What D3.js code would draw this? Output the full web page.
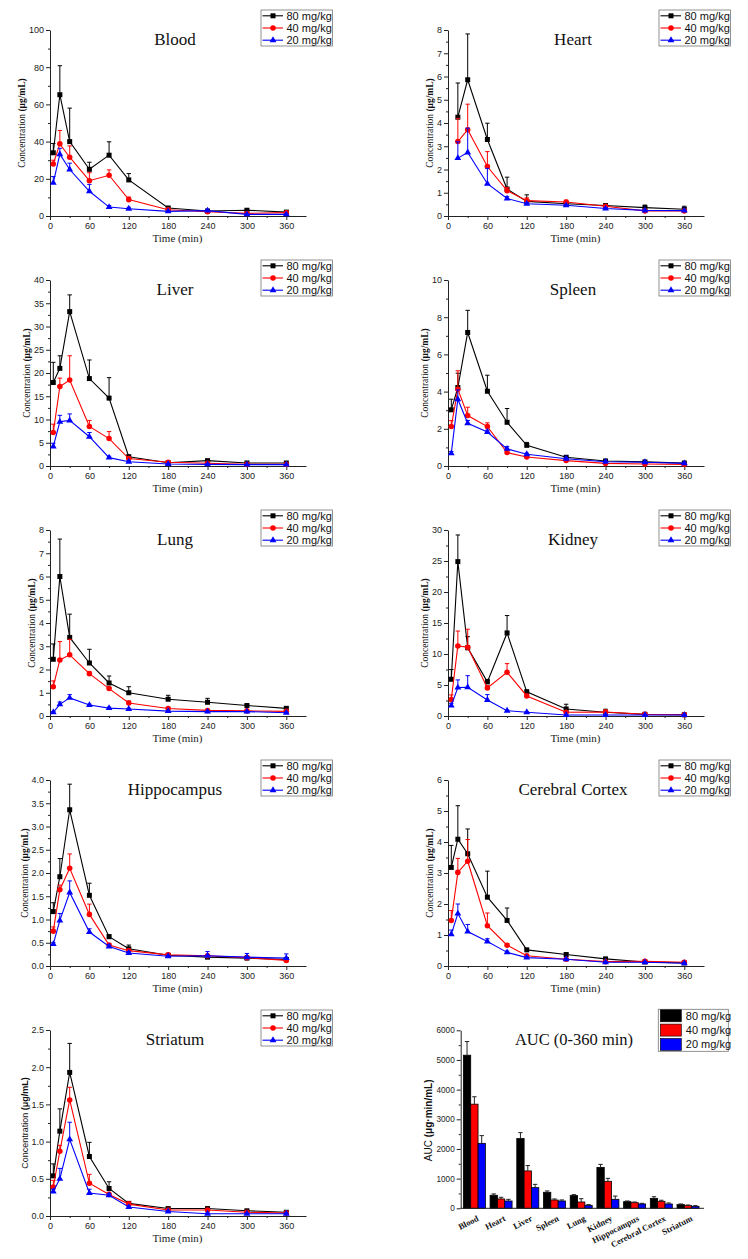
<!DOCTYPE html>
<html><head><meta charset="utf-8">
<script src="https://cdn.jsdelivr.net/npm/d3@7"></script>
<style>
body{margin:0;background:#fff}
svg{display:block}
</style></head><body>
<svg id="chart" width="748" height="1259"></svg>
<script>
// ---------- DATA ----------
const times = [5, 15, 30, 60, 90, 120, 180, 240, 300, 360];
const heartTimes = [15, 30, 60, 90, 120, 180, 240, 300, 360];
const doses = ["80 mg/kg", "40 mg/kg", "20 mg/kg"];
const tissues = ["Blood", "Heart", "Liver", "Spleen", "Lung", "Kidney", "Hippocampus", "Cerebral Cortex", "Striatum"];
const xTicks = [0, 60, 120, 180, 240, 300, 360];
const yMax = [100, 8, 40, 10, 8, 30, 4, 6, 2.5];
const yStep = [20, 1, 5, 2, 1, 5, 0.5, 1, 0.5];
const yDecimals = [0, 0, 0, 0, 0, 0, 1, 0, 1];

// mean values per dose (80, 40, 20 mg/kg) and upper error (SD)
const bloodMean = [
  [34, 65.2, 40, 25.1, 32.7, 19.4, 4.3, 2.7, 3.1, 2.1],
  [28, 38.8, 31.6, 19, 21.9, 8.8, 3.4, 2.3, 1.4, 1.8],
  [17.8, 33.2, 25, 13.3, 4.8, 3.9, 2.5, 2.9, 0.9, 0.9]];
const bloodSD = [
  [5, 15.6, 18, 3.8, 7.2, 3.4, 0.5, 0.3, 0.4, 0.4],
  [2, 7.2, 6.1, 4.3, 2.9, 1.4, 0.5, 0.4, 0.3, 0.3],
  [3.4, 3.2, 3.4, 3.7, 0.8, 0.8, 0.3, 0.4, 0.2, 0.2]];
const heartMean = [
  [4.25, 5.86, 3.29, 1.16, 0.63, 0.53, 0.45, 0.36, 0.29],
  [3.2, 3.71, 2.13, 1.09, 0.66, 0.60, 0.42, 0.22, 0.22],
  [2.49, 2.73, 1.39, 0.75, 0.53, 0.46, 0.32, 0.24, 0.23]];
const heartSD = [
  [1.47, 1.97, 0.70, 0.51, 0.28, 0.06, 0.07, 0.11, 0.13],
  [1.0, 1.10, 0.64, 0.13, 0.12, 0.08, 0.07, 0.05, 0.05],
  [0.7, 1.05, 0.66, 0.08, 0.05, 0.04, 0.04, 0.03, 0.03]];
const liverMean = [
  [17.95, 21.0, 33.2, 18.8, 14.6, 2.0, 0.7, 1.15, 0.65, 0.65],
  [7.2, 17.1, 18.5, 8.5, 5.9, 1.6, 0.8, 0.6, 0.35, 0.35],
  [4.2, 9.5, 9.8, 6.3, 1.8, 0.93, 0.43, 0.35, 0.3, 0.3]];
const liverSD = [
  [4.35, 2.7, 3.6, 4.0, 4.4, 0.3, 0.2, 0.2, 0.1, 0.1],
  [1.8, 1.8, 5.2, 1.3, 1.5, 0.3, 0.2, 0.1, 0.1, 0.1],
  [0.7, 1.4, 1.4, 0.9, 0.3, 0.2, 0.1, 0.1, 0.05, 0.05]];
const spleenMean = [
  [3.02, 4.22, 7.18, 4.02, 2.35, 1.11, 0.47, 0.27, 0.22, 0.16],
  [2.12, 4.13, 2.71, 2.12, 0.72, 0.48, 0.29, 0.14, 0.11, 0.09],
  [0.68, 3.59, 2.30, 1.83, 0.92, 0.63, 0.39, 0.23, 0.20, 0.14]];
const spleenSD = [
  [0.57, 0.77, 1.19, 0.86, 0.74, 0.16, 0.05, 0.04, 0.03, 0.03],
  [0.32, 0.99, 0.45, 0.20, 0.08, 0.06, 0.05, 0.03, 0.02, 0.02],
  [0.1, 0.5, 0.15, 0.1, 0.12, 0.06, 0.04, 0.03, 0.02, 0.02]];
const lungMean = [
  [2.44, 6.0, 3.38, 2.28, 1.42, 1.0, 0.72, 0.59, 0.45, 0.33],
  [1.26, 2.41, 2.63, 1.82, 1.18, 0.56, 0.32, 0.24, 0.22, 0.20],
  [0.16, 0.5, 0.78, 0.47, 0.34, 0.3, 0.21, 0.19, 0.19, 0.14]];
const lungSD = [
  [0.66, 1.61, 1.0, 0.59, 0.30, 0.26, 0.17, 0.17, 0.05, 0.04],
  [0.25, 0.79, 0.67, 0.1, 0.05, 0.09, 0.04, 0.03, 0.03, 0.03],
  [0.03, 0.1, 0.14, 0.04, 0.04, 0.03, 0.02, 0.02, 0.02, 0.02]];
const kidneyMean = [
  [5.92, 24.9, 11.0, 5.5, 13.4, 3.9, 1.13, 0.6, 0.27, 0.2],
  [2.64, 11.3, 11.1, 4.52, 7.05, 3.23, 0.6, 0.65, 0.27, 0.2],
  [1.67, 4.58, 4.63, 2.58, 0.86, 0.6, 0.16, 0.16, 0.16, 0.16]];
const kidneySD = [
  [1.58, 4.3, 1.8, 0.4, 2.8, 0.3, 0.77, 0.5, 0.05, 0.05],
  [0.76, 2.4, 2.9, 0.4, 1.4, 0.3, 0.1, 0.3, 0.05, 0.05],
  [0.38, 1.24, 1.87, 0.87, 0.1, 0.08, 0.03, 0.03, 0.03, 0.03]];
const hippoMean = [
  [1.17, 1.92, 3.36, 1.52, 0.63, 0.37, 0.23, 0.19, 0.17, 0.14],
  [0.75, 1.64, 2.10, 1.11, 0.45, 0.33, 0.24, 0.22, 0.18, 0.12],
  [0.47, 0.98, 1.58, 0.73, 0.42, 0.28, 0.21, 0.22, 0.19, 0.17]];
const hippoSD = [
  [0.19, 0.39, 0.55, 0.26, 0.04, 0.08, 0.03, 0.03, 0.03, 0.03],
  [0.09, 0.1, 0.31, 0.22, 0.03, 0.03, 0.03, 0.03, 0.03, 0.02],
  [0.03, 0.15, 0.25, 0.07, 0.03, 0.03, 0.02, 0.09, 0.08, 0.09]];
const cortexMean = [
  [3.18, 4.09, 3.62, 2.22, 1.47, 0.52, 0.37, 0.23, 0.13, 0.10],
  [1.47, 3.02, 3.38, 1.30, 0.67, 0.33, 0.22, 0.14, 0.15, 0.12],
  [1.02, 1.69, 1.11, 0.79, 0.44, 0.27, 0.22, 0.12, 0.12, 0.09]];
const cortexSD = [
  [0.71, 1.08, 0.80, 0.84, 0.40, 0.05, 0.05, 0.03, 0.02, 0.02],
  [0.32, 0.45, 0.70, 0.41, 0.05, 0.03, 0.02, 0.02, 0.02, 0.02],
  [0.14, 0.31, 0.23, 0.09, 0.04, 0.03, 0.02, 0.02, 0.02, 0.02]];
const striatumMean = [
  [0.54, 1.14, 1.93, 0.80, 0.37, 0.17, 0.10, 0.10, 0.07, 0.05],
  [0.39, 0.87, 1.56, 0.44, 0.29, 0.16, 0.08, 0.08, 0.05, 0.04],
  [0.33, 0.50, 1.03, 0.31, 0.28, 0.12, 0.06, 0.03, 0.03, 0.03]];
const striatumSD = [
  [0.16, 0.30, 0.39, 0.19, 0.09, 0.02, 0.01, 0.01, 0.01, 0.01],
  [0.09, 0.08, 0.17, 0.12, 0.03, 0.03, 0.01, 0.01, 0.01, 0.01],
  [0.03, 0.14, 0.23, 0.05, 0.02, 0.01, 0.01, 0.01, 0.01, 0.01]];

const aucCategories = tissues;
const auc80 = [5160, 440, 2350, 540, 430, 1380, 225, 335, 125];
const auc40 = [3510, 315, 1260, 280, 213, 910, 190, 236, 90];
const auc20 = [2190, 247, 697, 247, 101, 303, 146, 146, 67];
const aucSD80 = [460, 45, 200, 45, 30, 100, 22, 55, 22];
const aucSD40 = [250, 55, 180, 35, 110, 100, 22, 35, 22];
const aucSD20 = [260, 55, 110, 35, 23, 110, 23, 34, 23];
const aucTicks = [0, 1000, 2000, 3000, 4000, 5000, 6000];

// ---------- STYLE ----------
const colors = ["#000000", "#ff0000", "#0000ff"];
const SERIF = "'Liberation Serif','Times New Roman',serif";
const SANS = "'Liberation Sans',Arial,sans-serif";
const svg = d3.select("#chart");

const series = [
  [times, bloodMean, bloodSD],
  [heartTimes, heartMean, heartSD],
  [times, liverMean, liverSD],
  [times, spleenMean, spleenSD],
  [times, lungMean, lungSD],
  [times, kidneyMean, kidneySD],
  [times, hippoMean, hippoSD],
  [times, cortexMean, cortexSD],
  [times, striatumMean, striatumSD]
];

function styleAxis(g, size) {
  g.select(".domain").attr("stroke", "#222").attr("stroke-width", 1);
  g.selectAll(".tick line").attr("stroke", "#222");
  g.selectAll("text").attr("font-family", SANS).attr("font-size", size).attr("fill", "#222");
}

function symbolFor(k) {
  if (k === 0) return d3.symbol(d3.symbolSquare, 25)();
  if (k === 1) return d3.symbol(d3.symbolCircle, 24)();
  return d3.symbol(d3.symbolTriangle, 20)();
}

function drawLegend(g, lx, ly) {
  g.append("rect").attr("x", lx).attr("y", ly).attr("width", 71.5).attr("height", 36)
    .attr("fill", "#fff").attr("stroke", "#777").attr("stroke-width", 0.8);
  doses.forEach((d, k) => {
    const yy = ly + 5.8 + k * 12.2;
    g.append("line").attr("x1", lx + 1.5).attr("x2", lx + 22).attr("y1", yy).attr("y2", yy)
      .attr("stroke", colors[k]).attr("stroke-width", 1.1);
    g.append("path").attr("d", symbolFor(k)).attr("transform", `translate(${lx + 12},${yy})`)
      .attr("fill", colors[k]);
    g.append("text").attr("x", lx + 25.5).attr("y", yy).attr("dy", "0.35em")
      .attr("font-family", SANS).attr("font-size", 11).attr("fill", "#111").text(d);
  });
}

function drawLinePanel(i) {
  const col = i % 2, row = Math.floor(i / 2);
  const x0 = col ? 448 : 50, y0 = 30 + row * 250, w = 256, h = 186;
  const [t, means, sds] = series[i];
  const g = svg.append("g");
  const x = d3.scaleLinear().domain([0, 390]).range([x0, x0 + w]);
  const y = d3.scaleLinear().domain([0, yMax[i]]).range([y0 + h, y0]);
  const majors = d3.range(0, yMax[i] + 1e-9, yStep[i]);
  const minors = d3.range(yStep[i] / 2, yMax[i], yStep[i]);
  const fmt = yDecimals[i] ? d3.format(".1f") : d3.format("d");

  // minor ticks
  g.append("g").attr("transform", `translate(0,${y0 + h})`)
    .call(d3.axisBottom(x).tickValues(d3.range(30, 390, 60)).tickSize(2).tickFormat("").tickSizeOuter(0))
    .call(a => { a.select(".domain").remove(); a.selectAll("line").attr("stroke", "#222"); });
  g.append("g").attr("transform", `translate(${x0},0)`)
    .call(d3.axisLeft(y).tickValues(minors).tickSize(2).tickFormat("").tickSizeOuter(0))
    .call(a => { a.select(".domain").remove(); a.selectAll("line").attr("stroke", "#222"); });
  // major axes
  g.append("g").attr("transform", `translate(0,${y0 + h})`)
    .call(d3.axisBottom(x).tickValues(xTicks).tickSize(4).tickPadding(3).tickSizeOuter(0))
    .call(a => styleAxis(a, 9));
  const ya = g.append("g").attr("transform", `translate(${x0},0)`)
    .call(d3.axisLeft(y).tickValues(majors).tickFormat(fmt).tickSize(4).tickPadding(2).tickSizeOuter(0))
    .call(a => styleAxis(a, 9));

  // axis titles
  g.append("text").attr("x", x0 + 127.5).attr("y", y0 + h + 26).attr("text-anchor", "middle")
    .attr("font-family", SERIF).attr("font-size", 11).attr("fill", "#222").text("Time (min)");
  const bb = ya.node().getBBox();
  const isSans = tissues[i] === "Striatum";
  const yl = g.append("text")
    .attr("transform", `translate(${x0 + bb.x - 7},${y0 + h / 2}) rotate(-90)`)
    .attr("text-anchor", "middle").attr("dy", "0.35em")
    .attr("font-family", isSans ? SANS : SERIF).attr("font-size", isSans ? 9 : 9.5).attr("fill", "#111");
  yl.append("tspan").text("Concentration ");
  yl.append("tspan").attr("font-weight", "bold").text("(μg/mL)");

  // title
  g.append("text").attr("x", x0 + 125).attr("y", y0 + 15).attr("text-anchor", "middle")
    .attr("font-family", SERIF).attr("font-size", 17).attr("fill", "#111").text(tissues[i]);

  // series
  means.forEach((m, k) => {
    const pts = t.map((tt, j) => ({ t: tt, v: m[j], e: sds[k][j] }));
    g.append("path").datum(pts)
      .attr("d", d3.line().x(d => x(d.t)).y(d => y(d.v)))
      .attr("fill", "none").attr("stroke", colors[k]).attr("stroke-width", 1.1);
    const eb = g.append("g").attr("stroke", colors[k]).attr("stroke-width", 1);
    pts.forEach(d => {
      eb.append("line").attr("x1", x(d.t)).attr("x2", x(d.t)).attr("y1", y(d.v)).attr("y2", y(d.v + d.e));
      eb.append("line").attr("x1", x(d.t) - 2.2).attr("x2", x(d.t) + 2.2).attr("y1", y(d.v + d.e)).attr("y2", y(d.v + d.e));
    });
    g.append("g").selectAll("path").data(pts).join("path")
      .attr("d", symbolFor(k))
      .attr("transform", d => `translate(${x(d.t)},${y(d.v)})`)
      .attr("fill", colors[k]);
  });

  drawLegend(g, x0 + 211, y0 - 20);
}

for (let i = 0; i < 9; i++) drawLinePanel(i);

// ---------- AUC panel ----------
(function () {
  const x0 = 460.7, y0 = 1030.3, h = 178, axEnd = 704;
  const g = svg.append("g");
  const x = d3.scaleBand().domain(aucCategories).range([x0, x0 + 241]).paddingInner(0.176).paddingOuter(0.1);
  const xi = d3.scaleBand().domain(doses).range([0, x.bandwidth()]);
  const y = d3.scaleLinear().domain([0, 6000]).range([y0 + h, y0]);
  const vals = [auc80, auc40, auc20];
  const sds = [aucSD80, aucSD40, aucSD20];

  // bars
  vals.forEach((arr, k) => {
    g.append("g").selectAll("rect").data(aucCategories).join("rect")
      .attr("x", c => x(c) + xi(doses[k]))
      .attr("y", (c, j) => y(arr[j]))
      .attr("width", xi.bandwidth())
      .attr("height", (c, j) => y(0) - y(arr[j]))
      .attr("fill", colors[k]).attr("stroke", "#000").attr("stroke-width", 0.8);
    const eb = g.append("g").attr("stroke", "#222").attr("stroke-width", 1);
    aucCategories.forEach((c, j) => {
      const cx = x(c) + xi(doses[k]) + xi.bandwidth() / 2;
      eb.append("line").attr("x1", cx).attr("x2", cx).attr("y1", y(arr[j])).attr("y2", y(arr[j] + sds[k][j]));
      eb.append("line").attr("x1", cx - 2.2).attr("x2", cx + 2.2).attr("y1", y(arr[j] + sds[k][j])).attr("y2", y(arr[j] + sds[k][j]));
    });
  });

  // y axis
  g.append("g").attr("transform", `translate(${x0},0)`)
    .call(d3.axisLeft(y).tickValues(d3.range(500, 6000, 1000)).tickSize(2).tickFormat("").tickSizeOuter(0))
    .call(a => { a.select(".domain").remove(); a.selectAll("line").attr("stroke", "#222"); });
  const ya = g.append("g").attr("transform", `translate(${x0},0)`)
    .call(d3.axisLeft(y).tickValues(aucTicks).tickFormat(d3.format("d")).tickSize(4).tickPadding(2).tickSizeOuter(0))
    .call(a => styleAxis(a, 8.2));
  // x axis line
  const xa = g.append("g").attr("transform", `translate(0,${y0 + h})`)
    .call(d3.axisBottom(x).tickSize(0).tickFormat("").tickSizeOuter(0));
  xa.select(".domain").attr("d", `M${x0},0H${axEnd}`).attr("stroke", "#222");

  // category labels
  g.append("g").selectAll("text").data(aucCategories).join("text")
    .attr("transform", c => `translate(${x(c) + x.bandwidth() / 2 + 5},${y0 + h + 12}) rotate(-27)`)
    .attr("text-anchor", "end")
    .attr("font-family", SERIF).attr("font-weight", "bold").attr("font-size", 8.6).attr("fill", "#111")
    .text(c => c);

  // y label
  const bb = ya.node().getBBox();
  const yl = g.append("text")
    .attr("transform", `translate(${x0 + bb.x - 8},${y0 + h / 2 + 1}) rotate(-90)`)
    .attr("text-anchor", "middle").attr("dy", "0.35em")
    .attr("font-family", SANS).attr("font-size", 10).attr("fill", "#111");
  yl.append("tspan").text("AUC ");
  yl.append("tspan").attr("font-weight", "bold").text("(μg·min/mL)");

  // title
  g.append("text").attr("x", 574).attr("y", y0 + 15).attr("text-anchor", "middle")
    .attr("font-family", SERIF).attr("font-size", 16.5).attr("fill", "#111").text("AUC (0-360 min)");

  // legend
  const lx = 658.3, ly = 1009.3;
  g.append("rect").attr("x", lx).attr("y", ly).attr("width", 70).attr("height", 42)
    .attr("fill", "#fff").attr("stroke", "#777").attr("stroke-width", 0.8);
  doses.forEach((d, k) => {
    const yy = ly + 6.5 + k * 14.3;
    g.append("rect").attr("x", lx + 2).attr("y", yy - 6).attr("width", 21).attr("height", 12)
      .attr("fill", colors[k]).attr("stroke", "#000").attr("stroke-width", 0.6);
    g.append("text").attr("x", lx + 27.5).attr("y", yy).attr("dy", "0.35em")
      .attr("font-family", SANS).attr("font-size", 11).attr("fill", "#111").text(d);
  });
})();
</script>
</body></html>
